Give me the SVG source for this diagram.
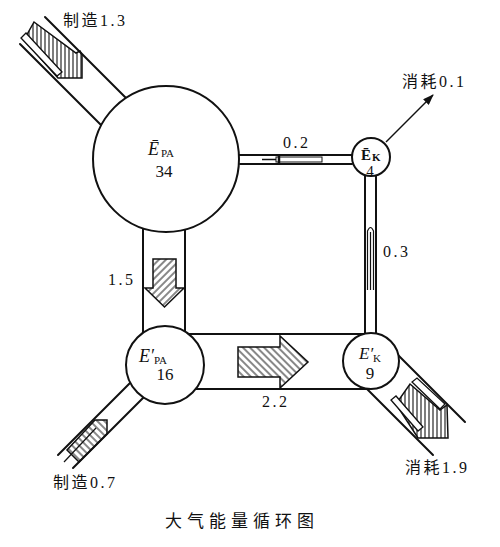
<svg xmlns="http://www.w3.org/2000/svg" width="500" height="547" viewBox="0 0 500 547">
<defs>
<style>
.pipe{stroke:#111;stroke-width:2;fill:none;stroke-linecap:round}
.node{fill:#fff;stroke:#111;stroke-width:2}
.arr{stroke:#111;stroke-width:1.5;stroke-linejoin:miter}
.strip{fill:#fff;stroke:#111;stroke-width:1.3}
.lbl{font-family:"Liberation Serif","Noto Sans CJK SC",serif;font-size:16px;letter-spacing:2.5px;fill:#111}
.it{font-family:"Liberation Serif",serif;font-style:italic;font-size:18px;fill:#111}
.sub{font-family:"Liberation Serif",serif;font-style:normal;font-size:11px;fill:#111}
.num{font-family:"Liberation Serif",serif;font-size:17px;fill:#111;text-anchor:middle}
.cap{font-family:"Noto Sans CJK SC",sans-serif;font-size:17px;letter-spacing:5px;fill:#111}
</style>
<pattern id="hv" width="4" height="4" patternUnits="userSpaceOnUse"><path d="M1,0V4" stroke="#111" stroke-width="1.1"/></pattern>
<pattern id="hf" width="5" height="5" patternUnits="userSpaceOnUse" patternTransform="rotate(45)"><path d="M1,0V5" stroke="#111" stroke-width="1"/></pattern>
<pattern id="hb" width="5" height="5" patternUnits="userSpaceOnUse" patternTransform="rotate(-45)"><path d="M1,0V5" stroke="#111" stroke-width="1"/></pattern>
<marker id="ah" markerWidth="11" markerHeight="8" refX="10" refY="4" orient="auto" markerUnits="userSpaceOnUse"><path d="M0,0 L11,4 L0,8 z" fill="#111"/></marker>
</defs>
<rect width="500" height="547" fill="#fff"/>

<g id="connectors">
  <!-- top-left manufacture 1.3 pipe -->
  <path class="pipe" d="M45,17 L126,98 M20,44 L101,125"/>
  <polygon class="arr" fill="url(#hv)" points="34,22 76,53 80,51 82,55 82,78 58,78 24,40"/>
  <polygon class="strip" points="21,38 57,76 62,72 26,33"/>
  <!-- 0.2 pipe -->
  <path class="pipe" d="M239,155 H353 M240,164 H352"/>
  <path d="M262,159.5 H276" stroke="#111" stroke-width="1.5"/>
  <rect x="276" y="157" width="46" height="5" fill="#fff" stroke="#111" stroke-width="1"/>
  <path d="M279,156 V163" stroke="#111" stroke-width="2.5"/>
  <!-- 0.3 pipe -->
  <path class="pipe" d="M365,175 V334 M376,175 V334"/>
  <path d="M367.5,290 V231 Q370.5,224 373.5,231 V290 M370.5,232 V290" fill="#fff" stroke="#111" stroke-width="1.2"/>
  <!-- 1.5 pipe -->
  <path class="pipe" d="M143,228 V333 M185,229 V331"/>
  <polygon class="arr" fill="url(#hf)" points="153,259 176,259 176,288 184,288 164.5,307 145,288 153,288"/>
  <!-- 2.2 pipe -->
  <path class="pipe" d="M189,334 H364 M196,389 H369"/>
  <polygon class="arr" fill="url(#hb)" points="238,347 280,347 280,336 308,362 280,388 280,377 238,377"/>
  <!-- consumption 0.1 -->
  <path d="M386,142 L433,95" stroke="#111" stroke-width="1.5" marker-end="url(#ah)"/>
  <!-- consumption 1.9 pipe -->
  <path class="pipe" d="M398,355 L465,422 M367,389 L433,455"/>
  <polygon class="arr" fill="url(#hv)" points="410,384 440,410 447,405 448,438 418,438 396,404"/>
  <polygon class="strip" points="391,400 418,431 423,427 396,396"/>
  <polygon class="strip" points="412,382 440,409 445,404 417,378"/>
  <!-- manufacture 0.7 pipe -->
  <path class="pipe" d="M130,383 L58,455 M143.5,397.5 L73,468"/>
  <polygon class="arr" fill="url(#hb)" points="95,420 107,420 107,434 79,462 67,450"/>
  <path d="M64,462 L96,428" stroke="#111" stroke-width="1.2"/>
</g>

<g id="node-EPA">
  <circle class="node" cx="166" cy="159" r="73"/>
  <text class="it" x="148" y="155">Ē<tspan class="sub" dx="2" dy="2">PA</tspan></text>
  <text class="num" x="164" y="177">34</text>
</g>
<g id="node-EK">
  <circle class="node" cx="371" cy="157" r="19"/>
  <text class="it" x="361" y="160" style="font-size:15px;font-style:normal;font-weight:bold">Ē<tspan class="sub" dx="1" dy="1" style="font-weight:bold">K</tspan></text>
  <text class="num" x="370" y="176" style="font-size:15px">4</text>
</g>
<g id="node-EPA2">
  <circle class="node" cx="165" cy="365" r="39"/>
  <text class="it" x="139" y="362">E′<tspan class="sub" dx="0" dy="2">PA</tspan></text>
  <text class="num" x="165" y="380">16</text>
</g>
<g id="node-EK2">
  <circle class="node" cx="371" cy="361" r="28"/>
  <text class="it" x="359" y="359" style="font-size:17px">E′<tspan class="sub" dx="0" dy="3">K</tspan></text>
  <text class="num" x="370" y="379">9</text>
</g>

<g id="labels">
  <text class="lbl" x="63" y="26">制造1.3</text>
  <text class="lbl" x="402" y="87">消耗0.1</text>
  <text class="lbl" x="283" y="148">0.2</text>
  <text class="lbl" x="383" y="257">0.3</text>
  <text class="lbl" x="108" y="285">1.5</text>
  <text class="lbl" x="262" y="407">2.2</text>
  <text class="lbl" x="405" y="473">消耗1.9</text>
  <text class="lbl" x="53" y="488">制造0.7</text>
  <text class="cap" x="165" y="527">大气能量循环图</text>
</g>
</svg>
